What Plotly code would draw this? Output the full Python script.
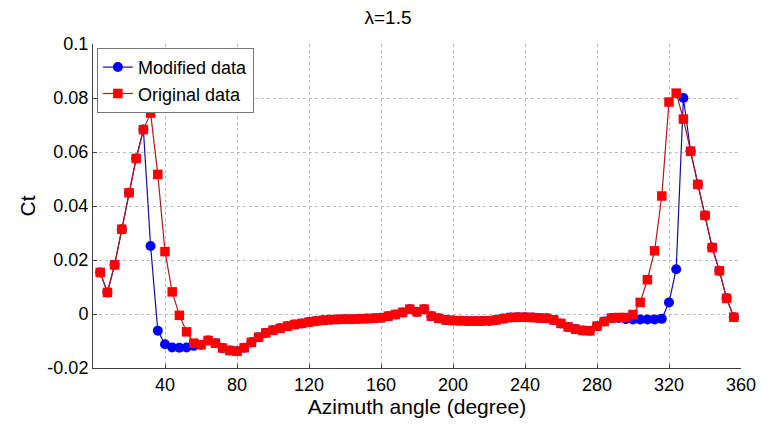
import plotly.graph_objects as go

# azimuth angles (degree)
angle = [4, 8, 12, 16, 20, 24, 28, 32, 36, 40, 44, 48, 52, 56, 60, 64, 68, 72, 76, 80,
         84, 88, 92, 96, 100, 104, 108, 112, 116, 120, 124, 128, 132, 136, 140, 144, 148, 152, 156, 160,
         164, 168, 172, 176, 180, 184, 188, 192, 196, 200, 204, 208, 212, 216, 220, 224, 228, 232, 236, 240,
         244, 248, 252, 256, 260, 264, 268, 272, 276, 280, 284, 288, 292, 296, 300, 304, 308, 312, 316, 320,
         324, 328, 332, 336, 340, 344, 348, 352, 356]

ct_original = [0.0154, 0.0080, 0.0182, 0.0314, 0.0449, 0.0576, 0.0683, 0.0744, 0.0517, 0.0231,
               0.0082, -0.0005, -0.0066, -0.0108, -0.0114, -0.0098, -0.0108, -0.0126, -0.0135, -0.0138,
               -0.0125, -0.0105, -0.0086, -0.0070, -0.0060, -0.0053, -0.0045, -0.0039, -0.0035, -0.0030,
               -0.0026, -0.0023, -0.0021, -0.0020, -0.0019, -0.0019, -0.0018, -0.0017, -0.0016, -0.0014,
               -0.0008, -0.0002, 0.0006, 0.0018, 0.0008, 0.0018, -0.0008, -0.0016, -0.0022, -0.0024,
               -0.0025, -0.0026, -0.0026, -0.0026, -0.0025, -0.0022, -0.0017, -0.0013, -0.0012, -0.0012,
               -0.0013, -0.0015, -0.0016, -0.0022, -0.0035, -0.0048, -0.0056, -0.0061, -0.0062, -0.0045,
               -0.0028, -0.0015, -0.0013, -0.0013, -0.0002, 0.0043, 0.0127, 0.0234, 0.0437, 0.0785,
               0.0818, 0.0722, 0.0603, 0.0480, 0.0365, 0.0246, 0.0160, 0.0058, -0.0012]

ct_modified = [0.0154, 0.0080, 0.0182, 0.0314, 0.0449, 0.0576, 0.0683, 0.0252, -0.0062, -0.0112,
               -0.0124, -0.0125, -0.0124, -0.0118, -0.0114, -0.0098, -0.0108, -0.0126, -0.0135, -0.0138,
               -0.0125, -0.0105, -0.0086, -0.0070, -0.0060, -0.0053, -0.0045, -0.0039, -0.0035, -0.0030,
               -0.0026, -0.0023, -0.0021, -0.0020, -0.0019, -0.0019, -0.0018, -0.0017, -0.0016, -0.0014,
               -0.0008, -0.0002, 0.0006, 0.0018, 0.0008, 0.0018, -0.0008, -0.0016, -0.0022, -0.0024,
               -0.0025, -0.0026, -0.0026, -0.0026, -0.0025, -0.0022, -0.0017, -0.0013, -0.0012, -0.0012,
               -0.0013, -0.0015, -0.0016, -0.0022, -0.0035, -0.0048, -0.0056, -0.0061, -0.0062, -0.0045,
               -0.0028, -0.0015, -0.0015, -0.0019, -0.0020, -0.0020, -0.0020, -0.0020, -0.0018, 0.0043,
               0.0166, 0.0800, 0.0603, 0.0480, 0.0365, 0.0246, 0.0160, 0.0058, -0.0012]

x_ticks = [40, 80, 120, 160, 200, 240, 280, 320, 360]
y_ticks = [-0.02, 0, 0.02, 0.04, 0.06, 0.08, 0.1]
y_tick_text = ["-0.02", "0", "0.02", "0.04", "0.06", "0.08", "0.1"]

FONT = "Arial, Liberation Sans, sans-serif"

fig = go.Figure()
fig.add_trace(go.Scatter(x=angle, y=ct_modified, name="Modified data", mode="lines+markers",
                         line=dict(color="#1010a0", width=1.2),
                         marker=dict(symbol="circle", size=10, color="#0000ff")))
fig.add_trace(go.Scatter(x=angle, y=ct_original, name="Original data", mode="lines+markers",
                         line=dict(color="#b01818", width=1.2),
                         marker=dict(symbol="square", size=9.5, color="#ff0000")))

# MATLAB style: solid left/bottom axes, dotted grid (grid closes the top/right edges)
axis_common = dict(showline=True, linecolor="#404040", linewidth=1, mirror=False,
                   ticks="inside", ticklen=4, tickcolor="#404040",
                   showgrid=True, gridcolor="#bbbbbb", griddash="dot", gridwidth=1,
                   zeroline=False, tickfont=dict(family=FONT, size=18, color="black"))

fig.update_xaxes(range=[0, 360], tickvals=x_ticks,
                 title=dict(text="Azimuth angle (degree)", font=dict(family=FONT, size=21, color="black"),
                            standoff=2),
                 **axis_common)
fig.update_yaxes(range=[-0.02, 0.1], tickvals=y_ticks, ticktext=y_tick_text,
                 title=dict(text="Ct", font=dict(family=FONT, size=21, color="black"), standoff=6),
                 **axis_common)

# page body has an 8px margin, so the figure is a bit smaller than the window
fig.update_layout(
    width=760, height=416,
    margin=dict(l=85, r=20, t=36, b=56),
    paper_bgcolor="white", plot_bgcolor="white",
    title=dict(text="λ=1.5", x=0.5, xanchor="center", y=0.978, yanchor="middle",
               font=dict(family=FONT, size=19, color="black")),
    legend=dict(x=0.006, y=0.988, xanchor="left", yanchor="top",
                bgcolor="white", bordercolor="#777777", borderwidth=1,
                font=dict(family=FONT, size=18, color="black"),
                itemwidth=30, tracegroupgap=0),
    showlegend=True,
)

fig.write_html("out.html", config={"displayModeBar": False})
